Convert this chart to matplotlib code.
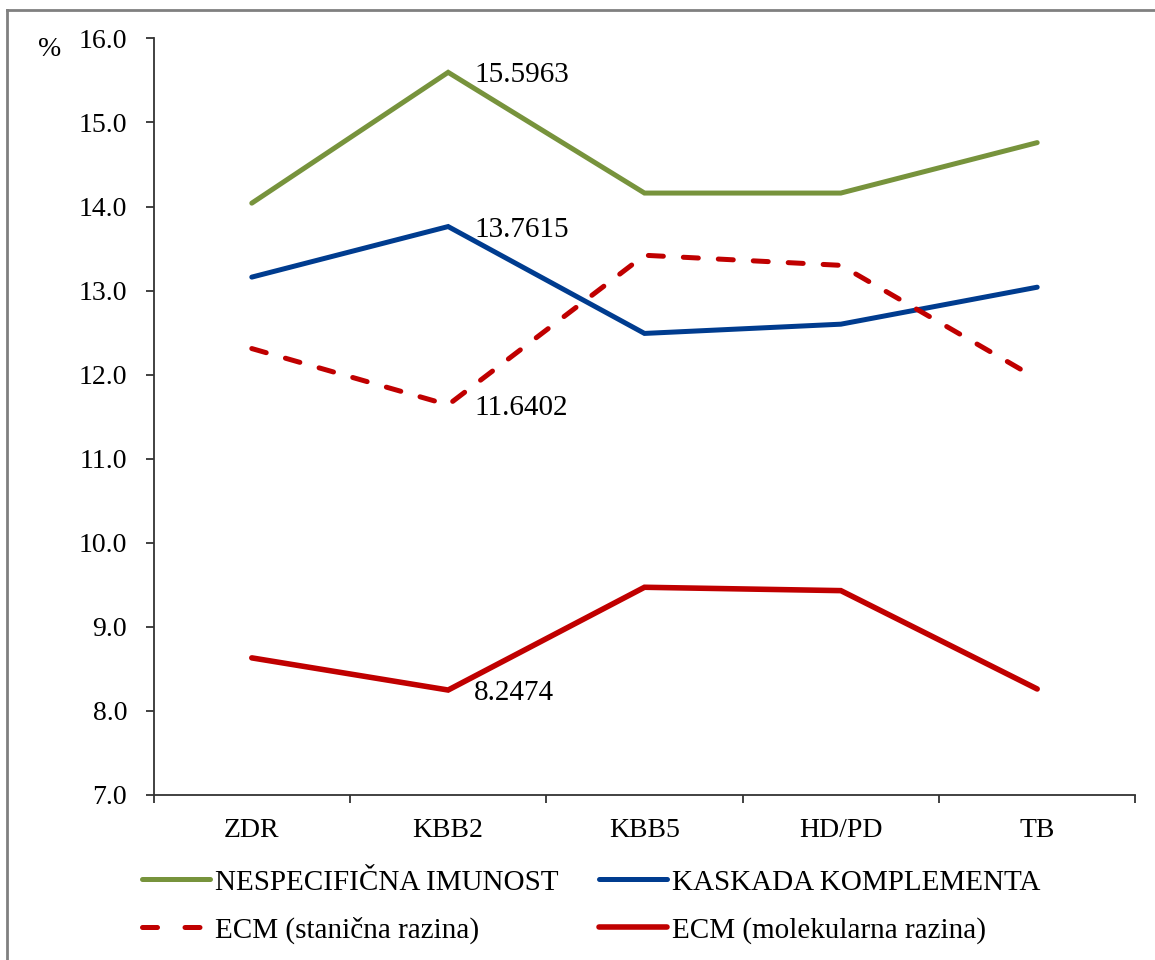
import numpy as np
import matplotlib
matplotlib.use("Agg")
from matplotlib import pyplot as plt
from matplotlib.lines import Line2D

plt.rcParams["font.family"] = ["Liberation Serif", "DejaVu Serif"]

categories = ["ZDR", "KBB2", "KBB5", "HD/PD", "TB"]
nespecificna = [14.04, 15.5963, 14.16, 14.16, 14.76]
kaskada = [13.16, 13.7615, 12.49, 12.60, 13.04]
ecm_stanicna = [12.31, 11.6402, 13.42, 13.30, 11.95]
ecm_molekularna = [8.63, 8.2474, 9.47, 9.43, 8.26]

labels = ["NESPECIFIČNA IMUNOST", "KASKADA KOMPLEMENTA",
          "ECM (stanična razina)", "ECM (molekularna razina)"]

fs = 21
fig = plt.figure(figsize=(11.55, 9.6), dpi=100)
ax = fig.add_axes([0.133, 0.172, 0.850, 0.788])

x = np.arange(len(categories))
lw = 3.6
l1, = ax.plot(x, nespecificna, color="#77933C", lw=lw, solid_capstyle="round", solid_joinstyle="miter")
l2, = ax.plot(x, kaskada, color="#003C8F", lw=lw, solid_capstyle="round", solid_joinstyle="miter")
l3, = ax.plot(x, ecm_stanicna, color="#C00000", lw=lw, dashes=(3, 4), dash_capstyle="round")
l4, = ax.plot(x, ecm_molekularna, color="#C00000", lw=4.0, solid_capstyle="round", solid_joinstyle="miter")

# data labels at KBB2
for series in (nespecificna, kaskada, ecm_stanicna, ecm_molekularna):
    ax.annotate(f"{series[1]:.4f}", (x[1], series[1]), xytext=(26, -3),
                textcoords="offset pixels", ha="left", va="center", fontsize=fs)

ax.set_ylim(7.0, 16.0)
ax.set_yticks(np.arange(7, 17, 1.0))
ax.set_yticklabels([f"{v:.1f}" for v in np.arange(7, 17, 1.0)], fontsize=20)
ax.set_xlim(-0.5, len(categories) - 0.5)
ax.set_xticks(np.arange(-0.5, len(categories), 1.0))
ax.set_xticklabels([])
ax.set_xticks(x, minor=True)
ax.set_xticklabels(categories, minor=True, fontsize=20)
ax.tick_params(axis="x", which="minor", length=0, pad=17)
ax.tick_params(axis="x", which="major", direction="out", length=6, width=1.3, color="#333333")
ax.tick_params(axis="y", direction="out", length=6, width=1.3, color="#333333", pad=13)

for s in ("top", "right"):
    ax.spines[s].set_visible(False)
for s in ("left", "bottom"):
    ax.spines[s].set_linewidth(1.3)
    ax.spines[s].set_color("#333333")

fig.text(50 / 1155, 1 - 50 / 960, "%", fontsize=20, ha="center", va="center")

# legend key for dashed series: two dashes like the original
dash_key = Line2D([], [], color="#C00000", lw=lw, dashes=(3, 5.5), dash_capstyle="round")

# legend fills column by column -> order so rows read as in the original
fig.legend([l1, dash_key, l2, l4], [labels[0], labels[2], labels[1], labels[3]],
           loc="center", bbox_to_anchor=(0.512, 0.0557),
           ncol=2, frameon=False, fontsize=fs, handlelength=2.33, handletextpad=0.17,
           columnspacing=1.4, labelspacing=0.72)

# outer frame (only left and top edges visible)
fig.add_artist(Line2D([7 / 1155, 7 / 1155], [0, 1 - 10 / 960], color="#808080", lw=2))
fig.add_artist(Line2D([7 / 1155, 1], [1 - 10 / 960, 1 - 10 / 960], color="#808080", lw=2))

fig.savefig("out.png", dpi=100, facecolor="white")
